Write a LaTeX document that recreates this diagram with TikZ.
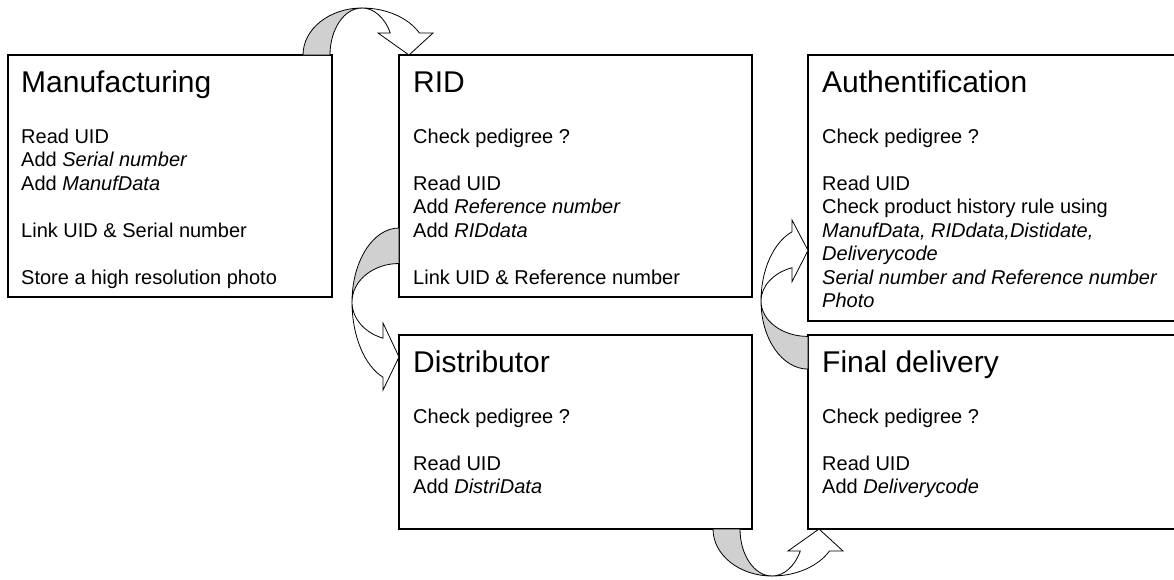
\documentclass[tikz,border=0pt]{standalone}
\usepackage{fontspec}
\setmainfont{Liberation Sans}
\definecolor{arrowgray}{RGB}{208,208,208}
\tikzset{
  box/.style={draw, line width=1.1pt, rectangle, inner sep=0pt, outer sep=0pt, anchor=north west},
  ttl/.style={inner sep=0pt, anchor=base west, font=\fontsize{30}{36}\selectfont},
  bdy/.style={inner sep=0pt, anchor=base west, font=\fontsize{20}{23.5}\selectfont},
  backband/.style={fill=arrowgray, draw=black, line width=0.8pt, line join=round},
  frontband/.style={fill=white, draw=black, line width=0.8pt, line join=miter},
}
\begin{document}
\begin{tikzpicture}[x=1pt,y=-1pt]
\useasboundingbox (0,0) rectangle (1174,579);

% boxes
\node[box, minimum width=324, minimum height=242] (manuf) at (8,55) {};
\node[box, minimum width=353, minimum height=242] (rid) at (399,55) {};
\node[box, minimum width=372, minimum height=266] (auth) at (808,55) {};
\node[box, minimum width=353, minimum height=194] (dist) at (399,335) {};
\node[box, minimum width=372, minimum height=194] (final) at (808,335) {};

% titles
\node[ttl] (manufT) at (21,92) {Manufacturing};
\node[ttl] (ridT) at (413,92) {RID};
\node[ttl] (authT) at (822,92) {Authentification};
\node[ttl] (distT) at (413,372.5) {Distributor};
\node[ttl] (finalT) at (822,372.5) {Final delivery};

% bodies
\node[bdy] (manufB) at (21,143) {\begin{tabular}[t]{@{}l@{}}
Read UID\\ Add \textit{Serial number}\\ Add \textit{ManufData}\\ \\
Link UID \& Serial number\\ \\ Store a high resolution photo\end{tabular}};
\node[bdy] (ridB) at (413,143) {\begin{tabular}[t]{@{}l@{}}
Check pedigree ?\\ \\ Read UID\\ Add \textit{Reference number}\\ Add \textit{RIDdata}\\ \\
Link UID \& Reference number\end{tabular}};
\node[bdy] (authB) at (822,143) {\begin{tabular}[t]{@{}l@{}}
Check pedigree ?\\ \\ Read UID\\ Check product history rule using\\
\textit{ManufData, RIDdata,Distidate,}\\ \textit{Deliverycode}\\
\textit{Serial number and Reference number}\\ \textit{Photo}\end{tabular}};
\node[bdy] (distB) at (413,423) {\begin{tabular}[t]{@{}l@{}}
Check pedigree ?\\ \\ Read UID\\ Add \textit{DistriData}\end{tabular}};
\node[bdy] (finalB) at (822,423) {\begin{tabular}[t]{@{}l@{}}
Check pedigree ?\\ \\ Read UID\\ Add \textit{Deliverycode}\end{tabular}};

% arrow centres
\coordinate (c1) at (362,55);
\coordinate (c2) at (399,302);
\coordinate (c3) at (808,301);
\coordinate (c4) at (772,529);

% top arrow: Manufacturing -> RID
\begin{scope}[shift={(c1)}]
  \path[backband] (-59,0) arc[start angle=180, end angle=270, x radius=59, y radius=47]
      arc[start angle=270, end angle=180, x radius=32, y radius=47] -- cycle;
  \path[frontband] (0,-47) arc[start angle=270, end angle=332.1, x radius=65, y radius=47]
      -- (71,-22) -- (47,0) -- (16,-22) -- (28.3,-22)
      arc[start angle=332.1, end angle=270, x radius=32, y radius=47] -- cycle;
\end{scope}

% bottom arrow: Distributor -> Final delivery
\begin{scope}[shift={(c4)}, yscale=-1]
  \path[backband] (-59,0) arc[start angle=180, end angle=270, x radius=59, y radius=47]
      arc[start angle=270, end angle=180, x radius=32, y radius=47] -- cycle;
  \path[frontband] (0,-47) arc[start angle=270, end angle=332.1, x radius=65, y radius=47]
      -- (71,-22) -- (47,0) -- (16,-22) -- (28.3,-22)
      arc[start angle=332.1, end angle=270, x radius=32, y radius=47] -- cycle;
\end{scope}

% left arrow: RID -> Distributor
\begin{scope}[shift={(c2)}]
  \path[backband] (0,-74) arc[start angle=270, end angle=180, x radius=47, y radius=74]
      arc[start angle=180, end angle=270, x radius=47, y radius=38.5] -- cycle;
  \path[frontband] (-47,0) arc[start angle=180, end angle=109.9, x radius=47, y radius=80]
      -- (-16,88) -- (0,55) -- (-16,21) -- (-16,36.2)
      arc[start angle=109.9, end angle=180, x radius=47, y radius=38.5] -- cycle;
\end{scope}

% right arrow: Final delivery -> Authentification
\begin{scope}[shift={(c3)}, yscale=-0.92]
  \path[backband] (0,-74) arc[start angle=270, end angle=180, x radius=47, y radius=74]
      arc[start angle=180, end angle=270, x radius=47, y radius=38.5] -- cycle;
  \path[frontband] (-47,0) arc[start angle=180, end angle=109.9, x radius=47, y radius=80]
      -- (-16,88) -- (0,55) -- (-16,21) -- (-16,36.2)
      arc[start angle=109.9, end angle=180, x radius=47, y radius=38.5] -- cycle;
\end{scope}
\end{tikzpicture}
\end{document}
